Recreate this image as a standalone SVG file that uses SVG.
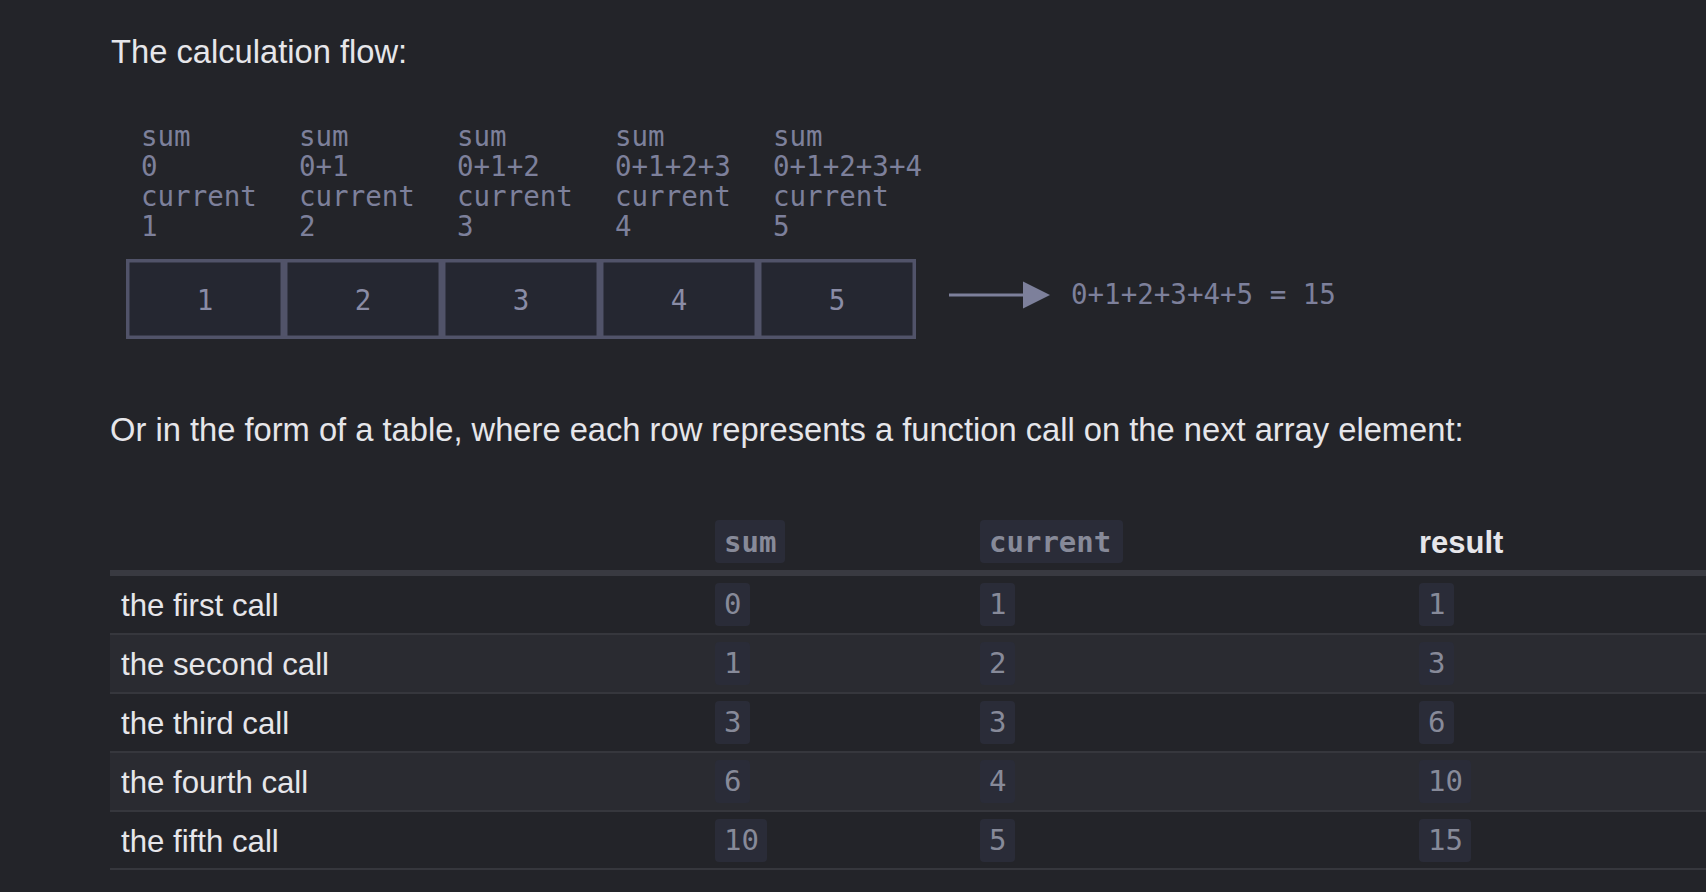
<svg xmlns="http://www.w3.org/2000/svg" width="1706" height="892" viewBox="0 0 1706 892">
<defs>
<style>
.bg{fill:#232429}
.h{font-family:"Liberation Sans",Arial,sans-serif;font-size:32.7px;fill:#e6e6ea}
.m{font-family:"DejaVu Sans Mono","Liberation Mono",monospace;font-size:27.5px;fill:#7d809b}
.box{fill:#252731;stroke:#515369;stroke-width:3.5}
.bn{font-family:"DejaVu Sans Mono","Liberation Mono",monospace;font-size:27.5px;fill:#8a8ca6;text-anchor:middle}
.td{font-family:"Liberation Sans",Arial,sans-serif;font-size:31.2px;fill:#e6e6ea}
.th{font-family:"Liberation Sans",Arial,sans-serif;font-size:31px;font-weight:bold;fill:#e6e6ea}
.cb{fill:#2a2c38}
.ct{font-family:"DejaVu Sans Mono","Liberation Mono",monospace;font-size:29px;fill:#878a99}
.cth{font-family:"DejaVu Sans Mono","Liberation Mono",monospace;font-size:29px;font-weight:bold;fill:#878a99}
.sep{fill:#36373d}
.stripe{fill:#2a2b31}
</style>
</defs>
<rect class="bg" x="0" y="0" width="1706" height="892"/>
<text class="h" x="111" y="63">The calculation flow:</text>

<g id="labels">
<text class="m" x="141" y="145.5">sum</text><text class="m" x="141" y="175.5">0</text><text class="m" x="141" y="205.5">current</text><text class="m" x="141" y="235.5">1</text>
<text class="m" x="299" y="145.5">sum</text><text class="m" x="299" y="175.5">0+1</text><text class="m" x="299" y="205.5">current</text><text class="m" x="299" y="235.5">2</text>
<text class="m" x="457" y="145.5">sum</text><text class="m" x="457" y="175.5">0+1+2</text><text class="m" x="457" y="205.5">current</text><text class="m" x="457" y="235.5">3</text>
<text class="m" x="615" y="145.5">sum</text><text class="m" x="615" y="175.5">0+1+2+3</text><text class="m" x="615" y="205.5">current</text><text class="m" x="615" y="235.5">4</text>
<text class="m" x="773" y="145.5">sum</text><text class="m" x="773" y="175.5">0+1+2+3+4</text><text class="m" x="773" y="205.5">current</text><text class="m" x="773" y="235.5">5</text>
</g>

<g id="cell1"><rect class="box" x="127.75" y="260.75" width="154.5" height="76.5"/><text class="bn" x="205" y="310">1</text></g>
<g id="cell2"><rect class="box" x="285.75" y="260.75" width="154.5" height="76.5"/><text class="bn" x="363" y="310">2</text></g>
<g id="cell3"><rect class="box" x="443.75" y="260.75" width="154.5" height="76.5"/><text class="bn" x="521" y="310">3</text></g>
<g id="cell4"><rect class="box" x="601.75" y="260.75" width="154.5" height="76.5"/><text class="bn" x="679" y="310">4</text></g>
<g id="cell5"><rect class="box" x="759.75" y="260.75" width="154.5" height="76.5"/><text class="bn" x="837" y="310">5</text></g>

<g id="connectors">
<line x1="949" y1="295" x2="1025" y2="295" stroke="#7d809b" stroke-width="3"/>
<polygon points="1023,281.5 1050,295 1023,308.5" fill="#7d809b"/>
</g>
<g id="result"><text class="m" x="1071" y="303.5">0+1+2+3+4+5 = 15</text></g>

<text class="h" x="110" y="441">Or in the form of a table, where each row represents a function call on the next array element:</text>

<g id="table">
<rect class="stripe" x="110" y="635" width="1596" height="57"/>
<rect class="stripe" x="110" y="753" width="1596" height="57"/>
<rect fill="#393a41" x="110" y="570" width="1596" height="6"/>
<rect class="sep" x="110" y="633" width="1596" height="2"/>
<rect class="sep" x="110" y="692" width="1596" height="2"/>
<rect class="sep" x="110" y="751" width="1596" height="2"/>
<rect class="sep" x="110" y="810" width="1596" height="2"/>
<rect class="sep" x="110" y="868" width="1596" height="2"/>

<rect class="cb" x="715" y="520" width="70" height="43" rx="4"/><text class="cth" x="724" y="552">sum</text>
<rect class="cb" x="980" y="520" width="143" height="43" rx="4"/><text class="cth" x="989" y="552">current</text>
<text class="th" x="1419" y="553">result</text>

<text class="td" x="121" y="616">the first call</text>
<text class="td" x="121" y="675">the second call</text>
<text class="td" x="121" y="734">the third call</text>
<text class="td" x="121" y="793">the fourth call</text>
<text class="td" x="121" y="852">the fifth call</text>

<rect class="cb" x="715" y="583" width="35" height="43" rx="4"/><text class="ct" x="724" y="614">0</text>
<rect class="cb" x="980" y="583" width="35" height="43" rx="4"/><text class="ct" x="989" y="614">1</text>
<rect class="cb" x="1419" y="583" width="35" height="43" rx="4"/><text class="ct" x="1428" y="614">1</text>

<rect class="cb" x="715" y="642" width="35" height="43" rx="4"/><text class="ct" x="724" y="673">1</text>
<rect class="cb" x="980" y="642" width="35" height="43" rx="4"/><text class="ct" x="989" y="673">2</text>
<rect class="cb" x="1419" y="642" width="35" height="43" rx="4"/><text class="ct" x="1428" y="673">3</text>

<rect class="cb" x="715" y="701" width="35" height="43" rx="4"/><text class="ct" x="724" y="732">3</text>
<rect class="cb" x="980" y="701" width="35" height="43" rx="4"/><text class="ct" x="989" y="732">3</text>
<rect class="cb" x="1419" y="701" width="35" height="43" rx="4"/><text class="ct" x="1428" y="732">6</text>

<rect class="cb" x="715" y="760" width="35" height="43" rx="4"/><text class="ct" x="724" y="791">6</text>
<rect class="cb" x="980" y="760" width="35" height="43" rx="4"/><text class="ct" x="989" y="791">4</text>
<rect class="cb" x="1419" y="760" width="52" height="43" rx="4"/><text class="ct" x="1428" y="791">10</text>

<rect class="cb" x="715" y="819" width="52" height="43" rx="4"/><text class="ct" x="724" y="850">10</text>
<rect class="cb" x="980" y="819" width="35" height="43" rx="4"/><text class="ct" x="989" y="850">5</text>
<rect class="cb" x="1419" y="819" width="52" height="43" rx="4"/><text class="ct" x="1428" y="850">15</text>
</g>
</svg>
